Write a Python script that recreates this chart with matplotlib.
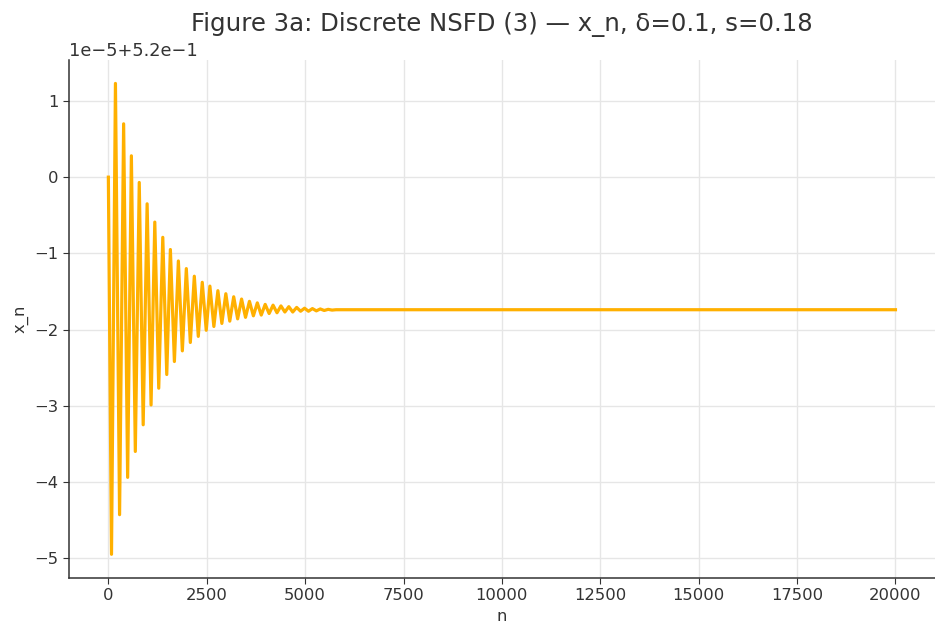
import numpy as np
import matplotlib
matplotlib.use("Agg")
import matplotlib.pyplot as plt

# turning points of x_n (n, and value in units of 1e-5 around 0.52)
ext_n = [0, 80, 180, 285, 388, 490, 585, 685, 785, 885, 985, 1085, 1180, 1280,
         1383, 1484, 1576, 1678, 1779, 1880, 1981, 2083, 2184, 2285, 2386, 2487,
         2580, 2681, 2783, 2884, 2985, 3085, 3185, 3285, 3385, 3485, 3585, 3685,
         3785, 3885, 3985, 4085, 4185, 4285, 4385, 4485, 4585, 4685, 4785, 4885,
         4985, 5085, 5185, 5285, 5385, 5485, 5585, 5685, 5785, 20000]
ext_val = [0.0, -4.95, 1.23, -4.43, 0.70, -3.94, 0.28, -3.60, -0.07, -3.25,
           -0.35, -2.99, -0.59, -2.77, -0.79, -2.59, -0.95, -2.42, -1.10, -2.28,
           -1.20, -2.17, -1.30, -2.09, -1.38, -2.01, -1.43, -1.96, -1.49, -1.92,
           -1.53, -1.89, -1.57, -1.86, -1.60, -1.84, -1.63, -1.82, -1.65, -1.81,
           -1.67, -1.79, -1.68, -1.78, -1.69, -1.77, -1.70, -1.77, -1.71, -1.76,
           -1.72, -1.76, -1.725, -1.755, -1.73, -1.75, -1.735, -1.745, -1.74, -1.74]

base = 0.52
scale = 1e-5
xn = base + scale * np.array(ext_val)

fig = plt.figure(figsize=(9.35, 6.24), dpi=100)
ax = fig.add_axes([0.0738, 0.074, 0.926, 0.83])

ax.plot(ext_n, xn, color="#FFB000", lw=2.3)

ax.grid(True, color="#e6e6e6", lw=1.0)
ax.set_axisbelow(True)
for side in ["top", "right"]:
    ax.spines[side].set_visible(False)
for side in ["left", "bottom"]:
    ax.spines[side].set_color("#333333")
    ax.spines[side].set_linewidth(1.1)
ax.tick_params(labelsize=11.8, colors="#333333", length=4)
ax.yaxis.get_offset_text().set_fontsize(12.8)
ax.yaxis.get_offset_text().set_color("#333333")

ax.set_title("Figure 3a: Discrete NSFD (3) — x_n, δ=0.1, s=0.18", fontsize=17.6,
             color="#333333", pad=21)
ax.set_xlabel("n", fontsize=11.8, color="#333333")
ax.set_ylabel("x_n", fontsize=11.8, color="#333333")

fig.savefig("out.png", dpi=100)
